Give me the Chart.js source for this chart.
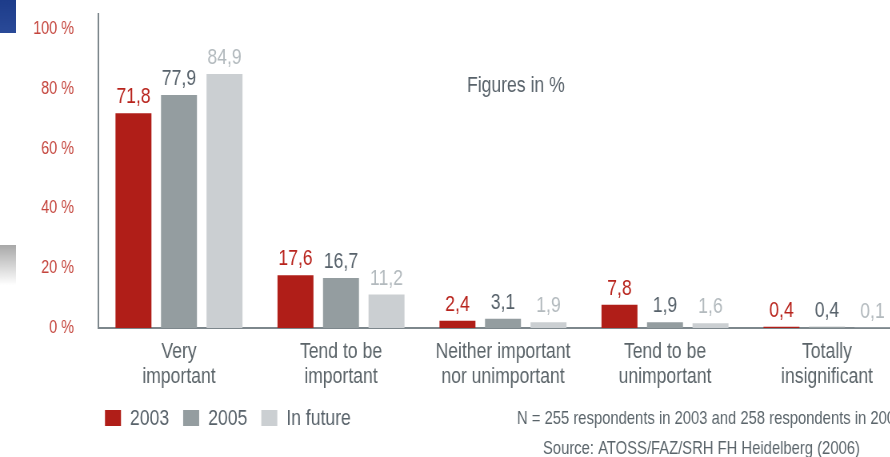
<!DOCTYPE html>
<html>
<head>
<meta charset="utf-8">
<script src="https://cdn.jsdelivr.net/npm/chart.js@4.4.0/dist/chart.umd.min.js"></script>
<style>
html, body { margin: 0; padding: 0; background: #fff; overflow: hidden; }
#wrap { width: 890px; height: 457px; overflow: hidden; }
/* the source artwork is horizontally condensed; squeeze the whole canvas */
#myChart { transform: scaleX(0.8); transform-origin: 0 0; display: block; }
</style>
</head>
<body>
<div id="wrap"><canvas id="myChart" width="1140" height="457"></canvas></div>
<script>
var categories = [['Very', 'important'], ['Tend to be', 'important'], ['Neither important', 'nor unimportant'], ['Tend to be', 'unimportant'], ['Totally', 'insignificant']];
var seriesNames = ['2003', '2005', 'In future'];
var values2003 = [71.8, 17.6, 2.4, 7.8, 0.4];
var values2005 = [77.9, 16.7, 3.1, 1.9, 0.4];
var valuesFuture = [84.9, 11.2, 1.9, 1.6, 0.1];
var yTicks = [0, 20, 40, 60, 80, 100];

var FONT = "'Liberation Sans', Arial, sans-serif";
var SX = 0.8; // horizontal squeeze applied by css
var barColors = ['#b01e18', '#949da0', '#cbcfd2'];
var labelColors = ['#b8231c', '#56616a', '#b3babe'];

// value labels over each bar
var valueLabels = {
    id: 'valueLabels',
    afterDatasetsDraw: function(chart) {
        var ctx = chart.ctx;
        ctx.save();
        ctx.font = '22px ' + FONT;
        ctx.textAlign = 'center';
        ctx.textBaseline = 'alphabetic';
        chart.data.datasets.forEach(function(ds, i) {
            chart.getDatasetMeta(i).data.forEach(function(bar, j) {
                ctx.fillStyle = labelColors[i];
                ctx.fillText(ds.data[j].toFixed(1).replace('.', ','), bar.x, bar.y - 10);
            });
        });
        ctx.restore();
    }
};

// side blocks, note text, legend and source line
var extras = {
    id: 'extras',
    beforeDraw: function(chart) {
        var ctx = chart.ctx;
        ctx.save();
        var g = ctx.createLinearGradient(0, 0, 0, 33);
        g.addColorStop(0, '#1d3c8a');
        g.addColorStop(1, '#2a4a98');
        ctx.fillStyle = g;
        ctx.fillRect(0, 0, 16 / SX, 33);
        var g2 = ctx.createLinearGradient(0, 245, 0, 285);
        g2.addColorStop(0, '#a8a8a8');
        g2.addColorStop(1, '#ffffff');
        ctx.fillStyle = g2;
        ctx.fillRect(0, 245, 16 / SX, 40);
        ctx.restore();
    },
    afterDraw: function(chart) {
        var ctx = chart.ctx;
        ctx.save();
        ctx.textBaseline = 'middle';
        ctx.textAlign = 'left';
        ctx.fillStyle = '#58626a';
        ctx.font = '22px ' + FONT;
        ctx.fillText('Figures in %', 467 / SX, 86);

        // legend
        var x = 105 / SX;
        ctx.font = '22px ' + FONT;
        chart.data.datasets.forEach(function(ds) {
            ctx.fillStyle = ds.backgroundColor;
            ctx.fillRect(x, 410, 16 / SX, 16);
            ctx.fillStyle = '#58626a';
            ctx.fillText(ds.label, x + 25 / SX, 419);
            x += 25 / SX + ctx.measureText(ds.label).width + 14 / SX;
        });

        ctx.font = '18.5px ' + FONT;
        ctx.fillStyle = '#5a646a';
        ctx.fillText('N = 255 respondents in 2003 and 258 respondents in 2005', 517 / SX, 419);
        ctx.fillText('Source: ATOSS/FAZ/SRH FH Heidelberg (2006)', 543 / SX, 449);
        ctx.restore();
    }
};

var ctx = document.getElementById('myChart').getContext('2d');
var myChart = new Chart(ctx, {
    type: 'bar',
    data: {
        labels: categories,
        datasets: [
            { label: seriesNames[0], data: values2003, backgroundColor: barColors[0] },
            { label: seriesNames[1], data: values2005, backgroundColor: barColors[1] },
            { label: seriesNames[2], data: valuesFuture, backgroundColor: barColors[2] }
        ]
    },
    options: {
        responsive: false,
        animation: false,
        layout: { padding: { top: 14, left: 0, right: 5, bottom: 0 } },
        datasets: {
            bar: { categoryPercentage: 0.843, barPercentage: 0.79 }
        },
        plugins: {
            legend: { display: false },
            tooltip: { enabled: false }
        },
        scales: {
            x: {
                grid: { display: false },
                border: { display: true, color: '#7d878c', width: 2 },
                ticks: {
                    color: '#5b6469',
                    font: { family: FONT, size: 22, lineHeight: 1.14 },
                    padding: 3,
                    maxRotation: 0,
                    autoSkip: false
                },
                afterFit: function(scale) {
                    scale.height = 129;
                    scale.paddingLeft = 0;
                    scale.paddingRight = 0;
                }
            },
            y: {
                min: 0,
                max: 105,
                grid: { display: false, drawTicks: false },
                border: { display: true, color: '#7d878c', width: 2 },
                afterBuildTicks: function(scale) {
                    scale.ticks = yTicks.map(function(v) { return { value: v }; });
                },
                ticks: {
                    color: '#c4443c',
                    font: { family: FONT, size: 18 },
                    padding: 30,
                    callback: function(v) { return v + ' %'; }
                },
                afterFit: function(scale) {
                    scale.width = 98 / SX;
                    scale.paddingTop = 0;
                    scale.paddingBottom = 0;
                }
            }
        }
    },
    plugins: [valueLabels, extras]
});
</script>
</body>
</html>
